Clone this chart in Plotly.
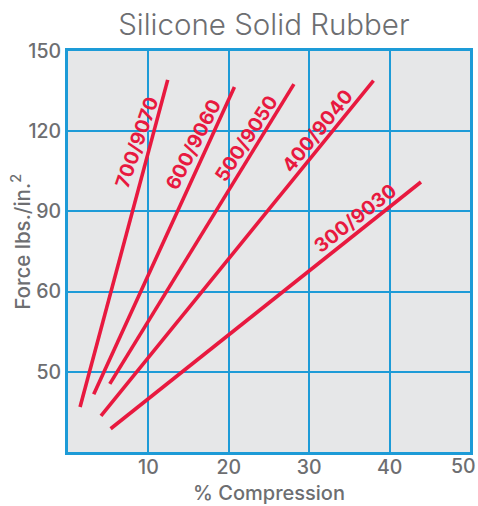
import numpy as np
import plotly.graph_objects as go

# ---- data ----
series_names = ["700/9070", "600/9060", "500/9050", "400/9040", "300/9030"]
comp_start = [1.5, 3.2, 5.2, 4.1, 5.3]          # % compression at lower end
comp_end = [12.4, 20.7, 28.1, 38.0, 43.9]       # % compression at upper end
force_start = [45.6, 47.2, 48.5, 44.5, 42.9]    # lbs/in^2 at lower end
force_end = [139.2, 136.5, 137.6, 138.9, 101.0] # lbs/in^2 at upper end

# label placement (data coords) and angle
label_x = [8.6, 15.6, 22.2, 31.0, 35.7]
label_force = [115.8, 115.2, 117.5, 120.0, 87.6]
label_angle = [-71, -63, -57, -51, -38]

x_ticks = [10, 20, 30, 40, 50]
y_tick_forces = [50, 60, 90, 120, 150]

# the printed force axis is non-uniform: equal bands between these values
scale_forces = [40, 50, 60, 90, 120, 150]
scale_pos = [0, 1, 2, 3, 4, 5]


def fpos(v):
    return np.interp(v, scale_forces, scale_pos)


RED = "#e8193f"
BLUE = "#1d9bd7"
GRAY = "#6d6e71"
FONT = "Inter"

fig = go.Figure()
for i, name in enumerate(series_names):
    fig.add_trace(go.Scatter(
        x=[comp_start[i], comp_end[i]],
        y=fpos([force_start[i], force_end[i]]),
        mode="lines", name=name,
        line=dict(color=RED, width=3.6),
        showlegend=False, hoverinfo="skip",
    ))
    fig.add_annotation(
        x=label_x[i], y=float(fpos(label_force[i])),
        text=name, showarrow=False, textangle=label_angle[i],
        font=dict(family=FONT, size=19.5, color=RED, weight=700),
    )

# "50" at the right edge, nudged inward like the reference
fig.add_annotation(
    x=50, y=0, xref="x", yref="y", text=str(x_ticks[-1]), showarrow=False,
    xshift=-7, yshift=-13.5, yanchor="middle",
    font=dict(family=FONT, size=19.5, color=GRAY, weight=500),
)

# y-axis title placed as rotated text left of the tick labels
fig.add_annotation(
    xref="paper", yref="paper", x=-0.117, y=0.524,
    text="Force lbs./in.<sup>2</sup>", showarrow=False, textangle=-90,
    xanchor="center", yanchor="middle",
    font=dict(family=FONT, size=20.5, color=GRAY, weight=500),
)

fig.update_layout(
    width=478, height=506,
    margin=dict(l=68, r=8, t=51, b=54, autoexpand=False),
    paper_bgcolor="white", plot_bgcolor="#e6e7e8",
    title=dict(text="Silicone Solid Rubber", x=0.552, xanchor="center",
               y=0.951, yanchor="middle",
               font=dict(family=FONT, size=29.5, color=GRAY, weight=300)),
    font=dict(family=FONT, color=GRAY),
)
fig.update_xaxes(
    range=[0, 50], tickvals=x_ticks[:-1], ticktext=[str(v) for v in x_ticks[:-1]],
    showgrid=True, gridcolor=BLUE, gridwidth=1.5,
    showline=True, linecolor=BLUE, linewidth=3, mirror=True,
    zeroline=False, ticks="", automargin=False, ticklabelstandoff=-4,
    tickfont=dict(family=FONT, size=19.5, color=GRAY, weight=500),
    title=dict(text="% Compression", standoff=8,
               font=dict(family=FONT, size=20, color=GRAY, weight=500)),
)
fig.update_yaxes(
    range=[0, 5], tickvals=list(fpos(y_tick_forces)),
    ticktext=[str(v) for v in y_tick_forces],
    showgrid=True, gridcolor=BLUE, gridwidth=1.5,
    showline=True, linecolor=BLUE, linewidth=3, mirror=True,
    zeroline=False, ticks="", automargin=False,
    tickfont=dict(family=FONT, size=19.5, color=GRAY, weight=500),
)

fig.write_html(
    "out.html",
    config={"displayModeBar": False},
    post_script="document.body.style.margin='0';document.body.style.overflow='hidden';",
)
